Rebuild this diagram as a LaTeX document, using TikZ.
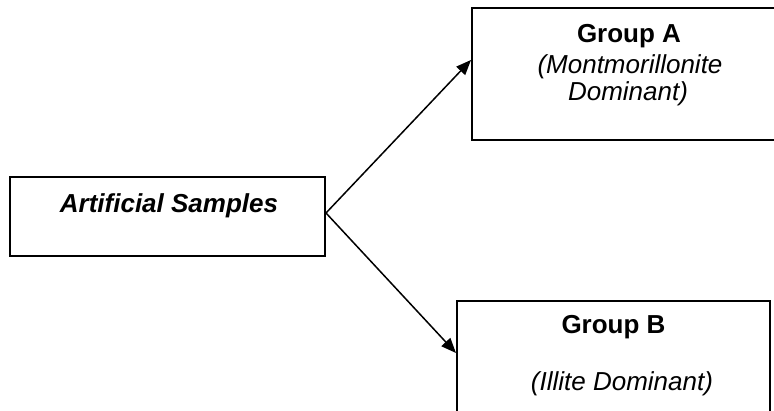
\documentclass[tikz,border=0pt]{standalone}
\usepackage{fontspec}
\setmainfont{Liberation Sans}
\usetikzlibrary{arrows.meta}
\begin{document}
\begin{tikzpicture}[x=1pt,y=1pt,
  boxstyle/.style={draw=black, line width=2pt, inner sep=0pt, fill=white},
  txt/.style={anchor=base, inner sep=0pt, font=\fontsize{26}{30}\selectfont},
  arr/.style={line width=1.5pt, -{Triangle[length=15pt,width=12pt]}}]
\clip (0,0) rectangle (774,410);
\fill[white] (0,0) rectangle (774,410);
% boxes
\node[boxstyle, minimum width=315pt, minimum height=79pt] (S) at (167.5,193.5) {};
\node[boxstyle, minimum width=340pt, minimum height=132pt] (A) at (642,336) {};
\node[boxstyle, minimum width=313pt, minimum height=160pt] (B) at (613.5,29) {};
% texts
\node[txt, font=\fontsize{26}{30}\selectfont\bfseries\itshape] (ts) at (169,197) {Artificial Samples};
\node[txt, font=\fontsize{26}{30}\selectfont\bfseries] (ta1) at (629,367) {Group A};
\node[txt, font=\fontsize{26}{30}\selectfont\itshape] (ta2) at (630,336) {(Montmorillonite};
\node[txt, font=\fontsize{26}{30}\selectfont\itshape] (ta3) at (628,309) {Dominant)};
\node[txt, font=\fontsize{26}{30}\selectfont\bfseries] (tb1) at (613.5,77) {Group B};
\node[txt, font=\fontsize{26}{30}\selectfont\itshape] (tb2) at (622,20) {(Illite Dominant)};
% connectors
\coordinate (s0) at ([yshift=3.5pt]S.east);
\coordinate (a0) at (A.west |- 0,350);
\coordinate (b0) at (B.west |- 0,57);
\draw[arr] (s0) -- (a0);
\draw[arr] (s0) -- (b0);
\end{tikzpicture}
\end{document}
